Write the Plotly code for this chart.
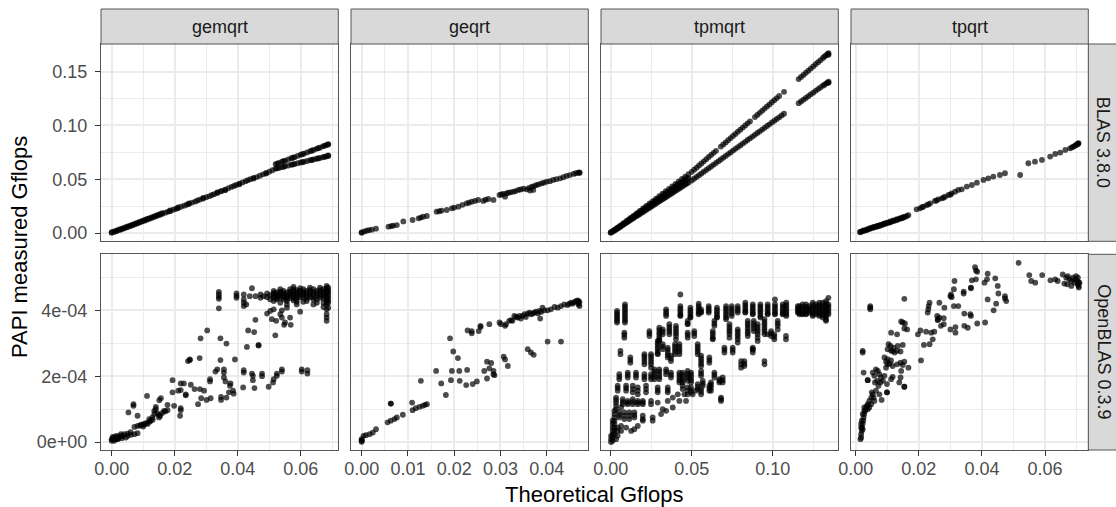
import plotly.graph_objects as go

# ------------------------------------------------------------------
# Data: PAPI measured Gflops vs theoretical Gflops, per routine/library.
# Each entry is (theoretical Gflops, [measured Gflops values at that x]).
# OpenBLAS measurements are stored in units of 1e-4 Gflops.
# ------------------------------------------------------------------
methods = ["gemqrt", "geqrt", "tpmqrt", "tpqrt"]
libraries = ["BLAS 3.8.0", "OpenBLAS 0.3.9"]
OPENBLAS_UNIT = 1e-4

gemqrt_blas = [
    (0.0000, [0.0003, 0.0008]), (0.0008, [0.0010, 0.0016]), (0.0016, [0.0018, 0.0024]),
    (0.0024, [0.0027, 0.0033]), (0.0032, [0.0035, 0.0041]), (0.0040, [0.0044, 0.0050]),
    (0.0048, [0.0053, 0.0058]), (0.0056, [0.0061, 0.0067]), (0.0064, [0.0070, 0.0076]),
    (0.0072, [0.0079, 0.0085]), (0.0080, [0.0088, 0.0094]), (0.0088, [0.0097, 0.0103]),
    (0.0096, [0.0106, 0.0112]), (0.0104, [0.0115, 0.0121]), (0.0112, [0.0124, 0.0130]),
    (0.0120, [0.0133, 0.0139]), (0.0128, [0.0141, 0.0148]), (0.0136, [0.0150, 0.0157]),
    (0.0144, [0.0160, 0.0166]), (0.0152, [0.0168, 0.0175]), (0.0160, [0.0177, 0.0184]),
    (0.0170, [0.0189]), (0.0178, [0.0197]), (0.0185, [0.0203, 0.0209]), (0.0195, [0.0216]),
    (0.0203, [0.0224]), (0.0210, [0.0231, 0.0237]), (0.0220, [0.0244]), (0.0230, [0.0254]),
    (0.0238, [0.0263]), (0.0245, [0.0270, 0.0276]), (0.0255, [0.0283]), (0.0265, [0.0292]),
    (0.0272, [0.0302]), (0.0280, [0.0311]), (0.0290, [0.0320, 0.0326]), (0.0300, [0.0333]),
    (0.0310, [0.0342]), (0.0318, [0.0353]), (0.0325, [0.0361]), (0.0335, [0.0372, 0.0378]),
    (0.0345, [0.0386]), (0.0350, [0.0392]), (0.0360, [0.0404, 0.0398]), (0.0370, [0.0416]),
    (0.0380, [0.0428]), (0.0388, [0.0437]), (0.0395, [0.0446]), (0.0405, [0.0458, 0.0452]),
    (0.0415, [0.0470]), (0.0425, [0.0482]), (0.0432, [0.0491]), (0.0440, [0.0500]),
    (0.0450, [0.0512, 0.0506]), (0.0460, [0.0520]), (0.0470, [0.0532]), (0.0480, [0.0545]),
    (0.0490, [0.0558, 0.0552]), (0.0500, [0.0570]), (0.0510, [0.0583]),
    (0.0520, [0.0598, 0.0640]), (0.0525, [0.0602, 0.0645]), (0.0530, [0.0605, 0.0651]),
    (0.0540, [0.0612, 0.0662]), (0.0545, [0.0616, 0.0667]), (0.0550, [0.0620, 0.0673]),
    (0.0560, [0.0627, 0.0684]), (0.0570, [0.0634, 0.0695]), (0.0575, [0.0637, 0.0700]),
    (0.0580, [0.0641, 0.0705]), (0.0590, [0.0648, 0.0716]), (0.0600, [0.0655, 0.0727]),
    (0.0605, [0.0658, 0.0732]), (0.0610, [0.0662, 0.0738]), (0.0620, [0.0669, 0.0749]),
    (0.0630, [0.0676, 0.0760]), (0.0635, [0.0679, 0.0765]), (0.0640, [0.0683, 0.0771]),
    (0.0650, [0.0690, 0.0782]), (0.0655, [0.0693, 0.0788]), (0.0660, [0.0697, 0.0793]),
    (0.0670, [0.0704, 0.0805]), (0.0675, [0.0708, 0.0810]), (0.0680, [0.0711, 0.0816]),
    (0.0687, [0.0716, 0.0826, 0.0720, 0.0822]),
]

geqrt_blas = [
    (0.0000, [0.0006, 0.0003]), (0.0006, [0.0015]), (0.0011, [0.0022]), (0.0016, [0.0027]),
    (0.0022, [0.0031]), (0.0031, [0.0040]), (0.0058, [0.0059]), (0.0064, [0.0064]),
    (0.0068, [0.0068]), (0.0076, [0.0074]), (0.0090, [0.0108]), (0.0110, [0.0121]),
    (0.0123, [0.0136]), (0.0128, [0.0143]), (0.0133, [0.0152]), (0.0141, [0.0158]),
    (0.0162, [0.0198]), (0.0168, [0.0202]), (0.0173, [0.0208]), (0.0184, [0.0214]),
    (0.0195, [0.0229]), (0.0200, [0.0236]), (0.0209, [0.0245]), (0.0218, [0.0262]),
    (0.0227, [0.0276]), (0.0232, [0.0282]), (0.0238, [0.0291]), (0.0245, [0.0298]),
    (0.0252, [0.0307]), (0.0263, [0.0298]), (0.0268, [0.0310]), (0.0274, [0.0316]),
    (0.0285, [0.0307]), (0.0298, [0.0353]), (0.0302, [0.0358]), (0.0306, [0.0363]),
    (0.0310, [0.0338]), (0.0313, [0.0368]), (0.0317, [0.0375]), (0.0322, [0.0378]),
    (0.0328, [0.0384]), (0.0333, [0.0390]), (0.0339, [0.0400]), (0.0344, [0.0405]),
    (0.0350, [0.0412]), (0.0357, [0.0406]), (0.0362, [0.0420]), (0.0364, [0.0394]),
    (0.0368, [0.0431]), (0.0371, [0.0400]), (0.0373, [0.0436]), (0.0378, [0.0446]),
    (0.0383, [0.0452]), (0.0389, [0.0462]), (0.0394, [0.0468]), (0.0400, [0.0477]),
    (0.0407, [0.0482]), (0.0414, [0.0493]), (0.0421, [0.0500]), (0.0429, [0.0508]),
    (0.0436, [0.0518]), (0.0443, [0.0530]), (0.0450, [0.0538]), (0.0458, [0.0549]),
    (0.0463, [0.0555]), (0.0468, [0.0561]), (0.0471, [0.0564, 0.0558]),
]

tpmqrt_blas = [
    (0.000, [0.0002, 0.0008]), (0.001, [0.0011, 0.0014]), (0.002, [0.0020, 0.0023, 0.0026]),
    (0.003, [0.0031, 0.0035]), (0.004, [0.0039, 0.0043, 0.0047]), (0.005, [0.0050, 0.0056]),
    (0.006, [0.0059, 0.0064, 0.0069]), (0.007, [0.0070, 0.0078]),
    (0.008, [0.0078, 0.0085, 0.0091]), (0.009, [0.0090, 0.0099]),
    (0.010, [0.0098, 0.0106, 0.0114]), (0.011, [0.0110, 0.0121]),
    (0.012, [0.0118, 0.0127, 0.0137]), (0.013, [0.0130, 0.0143]),
    (0.014, [0.0137, 0.0149, 0.0160]), (0.015, [0.0150, 0.0165]),
    (0.016, [0.0157, 0.0170, 0.0182]), (0.017, [0.0168, 0.0186]),
    (0.018, [0.0176, 0.0191, 0.0205]), (0.019, [0.0188, 0.0208]),
    (0.020, [0.0196, 0.0212, 0.0228]), (0.021, [0.0207, 0.0230]),
    (0.022, [0.0216, 0.0233, 0.0251]), (0.023, [0.0227, 0.0252]),
    (0.024, [0.0235, 0.0254, 0.0274]), (0.025, [0.0246, 0.0273]),
    (0.026, [0.0255, 0.0276, 0.0296]), (0.027, [0.0266, 0.0295]),
    (0.028, [0.0274, 0.0297, 0.0319]), (0.029, [0.0285, 0.0316]),
    (0.030, [0.0294, 0.0318, 0.0342]), (0.031, [0.0305, 0.0338]),
    (0.032, [0.0314, 0.0339, 0.0365]), (0.033, [0.0324, 0.0360]),
    (0.034, [0.0333, 0.0360, 0.0388]), (0.035, [0.0344, 0.0381]),
    (0.036, [0.0353, 0.0382, 0.0410]), (0.037, [0.0363, 0.0403]),
    (0.038, [0.0372, 0.0403, 0.0433]), (0.039, [0.0383, 0.0425]),
    (0.040, [0.0392, 0.0424, 0.0456]), (0.041, [0.0402, 0.0447]),
    (0.042, [0.0412, 0.0445, 0.0479]), (0.043, [0.0421, 0.0468]),
    (0.044, [0.0431, 0.0466, 0.0502]), (0.045, [0.0441, 0.0490]),
    (0.046, [0.0451, 0.0488, 0.0524]), (0.047, [0.0461, 0.0512]),
    (0.048, [0.0470, 0.0509, 0.0547]),
    (0.050, [0.0488, 0.0568]), (0.0515, [0.0505, 0.0588]), (0.053, [0.0521, 0.0607]),
    (0.0545, [0.0537, 0.0627]), (0.056, [0.0553, 0.0646]), (0.0575, [0.0570, 0.0666]),
    (0.059, [0.0586, 0.0686]), (0.0605, [0.0602, 0.0706]), (0.062, [0.0618, 0.0725]),
    (0.0635, [0.0635, 0.0745]), (0.065, [0.0651, 0.0764]), (0.0665, [0.0667]),
    (0.068, [0.0683, 0.0803]), (0.0695, [0.0700, 0.0823]), (0.071, [0.0716, 0.0842]),
    (0.0725, [0.0733, 0.0862]), (0.074, [0.0749, 0.0882]), (0.0755, [0.0766, 0.0902]),
    (0.077, [0.0782, 0.0921]), (0.0785, [0.0798, 0.0941]), (0.080, [0.0814, 0.0960]),
    (0.0815, [0.0831, 0.0980]), (0.083, [0.0847, 0.0999]), (0.0845, [0.0864, 0.1019]),
    (0.086, [0.0880, 0.1038]), (0.0875, [0.0896]), (0.089, [0.0912, 0.1077]),
    (0.0905, [0.0929, 0.1097]), (0.092, [0.0945, 0.1117]), (0.0935, [0.0961, 0.1137]),
    (0.095, [0.0977, 0.1156]), (0.0965, [0.0994, 0.1176]), (0.098, [0.1010, 0.1195]),
    (0.0995, [0.1027, 0.1215]), (0.101, [0.1043, 0.1234]), (0.1025, [0.1059, 0.1254]),
    (0.104, [0.1075, 0.1273]), (0.1055, [0.1092]), (0.107, [0.1108, 0.1312]),
    (0.116, [0.1206, 0.1430]), (0.1175, [0.1222, 0.1450]), (0.119, [0.1239, 0.1469]),
    (0.1205, [0.1255, 0.1489]), (0.122, [0.1271, 0.1508]), (0.1235, [0.1288, 0.1528]),
    (0.125, [0.1304, 0.1548]), (0.1265, [0.1321, 0.1568]), (0.128, [0.1337, 0.1587]),
    (0.1295, [0.1352, 0.1605]), (0.131, [0.1369, 0.1626]), (0.132, [0.1378, 0.1640]),
    (0.133, [0.1391, 0.1652]), (0.134, [0.1398, 0.1663]),
    (0.1345, [0.1407, 0.1672, 0.1395, 0.1655]),
]

tpqrt_blas = [
    (0.0014, [0.0006, 0.0012]), (0.0019, [0.0013]), (0.0024, [0.0019, 0.0025]),
    (0.0030, [0.0024]), (0.0035, [0.0028, 0.0034]), (0.0040, [0.0036]),
    (0.0045, [0.0040, 0.0046]), (0.0050, [0.0047]), (0.0056, [0.0050, 0.0057]),
    (0.0061, [0.0056]), (0.0067, [0.0059, 0.0066]), (0.0072, [0.0066]),
    (0.0077, [0.0068, 0.0076]), (0.0083, [0.0075]), (0.0088, [0.0081, 0.0088]),
    (0.0093, [0.0086]), (0.0098, [0.0090, 0.0097]), (0.0104, [0.0096]),
    (0.0109, [0.0099, 0.0107]), (0.0114, [0.0106]), (0.0119, [0.0112, 0.0118]),
    (0.0125, [0.0116]), (0.0130, [0.0121, 0.0128]), (0.0135, [0.0127]),
    (0.0141, [0.0133, 0.0139]), (0.0146, [0.0138]), (0.0151, [0.0143, 0.0150]),
    (0.0157, [0.0150]), (0.0162, [0.0158]), (0.0167, [0.0167]),
    (0.0193, [0.0220]), (0.0204, [0.0229]), (0.0210, [0.0240]), (0.0214, [0.0245]),
    (0.0225, [0.0260]), (0.0230, [0.0266]), (0.0236, [0.0276]), (0.0251, [0.0298]),
    (0.0256, [0.0302]), (0.0262, [0.0313]), (0.0273, [0.0322]), (0.0278, [0.0328]),
    (0.0283, [0.0338]), (0.0294, [0.0353]), (0.0300, [0.0356]), (0.0304, [0.0369]),
    (0.0315, [0.0384]), (0.0325, [0.0400]), (0.0336, [0.0406]), (0.0352, [0.0431]),
    (0.0368, [0.0446]), (0.0384, [0.0468]), (0.0405, [0.0493]), (0.0420, [0.0508]),
    (0.0436, [0.0524]), (0.0457, [0.0539]), (0.0473, [0.0555]), (0.0521, [0.0539]),
    (0.0547, [0.0648]), (0.0568, [0.0663]), (0.0590, [0.0679]), (0.0616, [0.0710]),
    (0.0632, [0.0735]), (0.0648, [0.0747]), (0.0664, [0.0772]), (0.0679, [0.0787]),
    (0.0685, [0.0795]), (0.0690, [0.0803]), (0.0694, [0.0810]), (0.0698, [0.0818]),
    (0.0701, [0.0822]), (0.0703, [0.0828]), (0.0705, [0.0831]), (0.0706, [0.0834]),
]

gemqrt_openblas = [
    (0.0340, [4.56, 4.48, 4.41, 4.35, 4.06]), (0.0396, [4.51, 4.44, 4.38]),
    (0.0419, [4.48, 4.33, 4.23, 4.13]), (0.0427, [4.18]), (0.0438, [4.43]),
    (0.0445, [4.67]), (0.0456, [4.43, 3.71]), (0.0472, [4.48, 4.38]), (0.0482, [4.43]),
    (0.0493, [4.51, 4.40, 3.90]), (0.0503, [4.46, 4.33, 3.98]), (0.0508, [3.73]),
    (0.0514, [4.59, 4.53, 4.48, 4.43, 4.38, 4.28, 4.03]), (0.0522, [3.68]),
    (0.0524, [4.54, 4.48, 4.43, 4.38, 4.33]),
    (0.0535, [4.64, 4.57, 4.51, 4.45, 4.38, 4.23, 3.88]), (0.0540, [4.00, 3.78]),
    (0.0545, [4.59, 4.52, 4.46, 4.40, 4.33]), (0.0547, [3.56]), (0.0550, [3.63]),
    (0.0556, [4.54, 4.47, 4.40, 4.34, 4.28, 4.18, 4.08]),
    (0.0566, [4.64, 4.57, 4.51, 4.45, 4.38, 3.78]),
    (0.0568, [3.56]), (0.0577, [4.71, 4.64, 4.57, 4.50, 4.43, 4.36, 4.30]),
    (0.0587, [4.61, 4.54, 4.48, 4.41, 4.33, 4.26, 4.18]),
    (0.0598, [4.67, 4.60, 4.54, 4.47, 4.40, 3.96]),
    (0.0608, [4.64, 4.57, 4.51, 4.45, 4.38, 4.26]),
    (0.0619, [4.59, 4.51, 4.43, 4.36, 4.28]), (0.0629, [4.69, 4.61, 4.54, 4.47, 4.40]),
    (0.0640, [4.64, 4.56, 4.48, 4.40, 4.33, 4.18]), (0.0651, [4.59, 4.51, 4.43, 4.33, 4.23]),
    (0.0661, [4.69, 4.61, 4.54, 4.46, 4.38]),
    (0.0672, [4.64, 4.57, 4.51, 4.43, 4.36, 4.23, 4.10]),
    (0.0682, [4.74, 4.67, 4.61, 4.54, 4.48, 4.40, 4.33, 4.25, 4.18, 4.03, 3.88, 3.78, 3.68]),
    (0.0687, [4.69, 4.61, 4.54, 4.46, 4.38, 4.30, 4.23, 4.08]),
    (0.0433, [3.39]), (0.0452, [3.34]), (0.0519, [3.24]), (0.0429, [2.89]),
    (0.0466, [2.95, 2.93]), (0.0364, [2.99]), (0.0345, [3.15, 2.49]), (0.0303, [3.39]),
    (0.0282, [3.15]), (0.0248, [2.51, 2.49]), (0.0242, [2.46]), (0.0279, [2.55]),
    (0.0391, [2.51]), (0.0335, [2.21]), (0.0329, [2.14]), (0.0356, [2.21, 2.11, 1.96]),
    (0.0312, [1.91, 1.84]), (0.0361, [1.84]), (0.0377, [1.78]), (0.0375, [1.71]),
    (0.0385, [1.56]), (0.0387, [1.47]), (0.0372, [1.51]), (0.0364, [1.35]),
    (0.0347, [1.37, 1.28]), (0.0314, [1.33]), (0.0301, [1.28]), (0.0284, [1.33]),
    (0.0274, [1.15]), (0.0293, [1.56]), (0.0280, [1.61]), (0.0263, [1.61]),
    (0.0251, [1.74]), (0.0229, [1.78]), (0.0219, [1.78, 1.58, 1.03, 0.97]),
    (0.0235, [1.45, 1.42]), (0.0211, [1.56]), (0.0193, [1.88, 1.51]), (0.0217, [0.80]),
    (0.0198, [1.10]), (0.0177, [1.13, 0.97]), (0.0166, [0.95]), (0.0156, [1.33]),
    (0.0151, [1.27]), (0.0140, [1.07, 1.00]), (0.0135, [0.95, 0.85]), (0.0129, [0.75]),
    (0.0145, [0.87]), (0.0154, [0.80]), (0.0124, [0.65]), (0.0119, [0.70]),
    (0.0114, [0.55]), (0.0112, [1.40]), (0.0069, [1.15, 1.10]), (0.0053, [0.90]),
    (0.0082, [0.80, 0.49, 0.27]), (0.0072, [0.46, 0.24]), (0.0093, [0.53]),
    (0.0103, [0.55]), (0.0040, [0.24]), (0.0051, [0.19]), (0.0061, [0.22]),
    (0.0000, [0.04, 0.09]), (0.0003, [0.09, 0.16]), (0.0008, [0.14, 0.04]),
    (0.0014, [0.19, 0.09]), (0.0019, [0.09]), (0.0024, [0.16]), (0.0029, [0.24]),
    (0.0032, [0.12]), (0.0035, [0.19]), (0.0045, [0.14]),
    (0.0090, [0.50]), (0.0100, [0.53, 0.47]), (0.0110, [0.58]), (0.0120, [0.62]),
    (0.0130, [0.68]), (0.0150, [0.82, 0.75]), (0.0160, [0.88]), (0.0170, [0.93]),
    (0.0010, [0.10]), (0.0020, [0.17, 0.11]), (0.0030, [0.18]), (0.0060, [0.30]),
    (0.0050, [0.26]),
    (0.0419, [2.11, 2.18]), (0.0417, [1.66]), (0.0445, [2.08]), (0.0448, [2.01, 1.88]),
    (0.0453, [1.64]), (0.0477, [2.08, 2.00]), (0.0498, [1.68]), (0.0512, [1.81]),
    (0.0514, [1.91]), (0.0524, [2.01, 2.08]), (0.0540, [2.14, 2.21]),
    (0.0603, [2.21, 2.14]), (0.0621, [2.18, 2.08]),
]

geqrt_openblas = [
    (0.0000, [0.04, 0.09, 0.01, 0.06]), (0.0004, [0.19]), (0.0009, [0.21]), (0.0017, [0.24]),
    (0.0024, [0.29]), (0.0031, [0.39]), (0.0056, [0.60]), (0.0063, [0.65, 1.17, 1.17]),
    (0.0071, [0.70]), (0.0076, [0.75]), (0.0089, [0.83]), (0.0109, [1.20]), (0.0110, [0.97]),
    (0.0117, [1.03]), (0.0125, [1.07]), (0.0128, [1.86]), (0.0132, [1.10]), (0.0137, [1.13]),
    (0.0141, [1.15]), (0.0161, [2.16]), (0.0172, [1.78]), (0.0182, [1.43]), (0.0191, [3.15]),
    (0.0193, [1.88]), (0.0195, [2.16]), (0.0198, [2.75]), (0.0208, [2.55]), (0.0211, [2.16]),
    (0.0212, [1.86]), (0.0226, [1.73]), (0.0228, [2.19]), (0.0229, [3.39]),
    (0.0238, [3.37, 3.30]), (0.0240, [1.76]), (0.0249, [1.84]), (0.0253, [3.37]),
    (0.0257, [3.53, 3.49]), (0.0265, [2.16]), (0.0271, [1.93, 2.44]), (0.0276, [3.58, 2.24]),
    (0.0280, [2.40]), (0.0285, [2.16, 2.06]), (0.0287, [2.03]), (0.0298, [3.63]),
    (0.0301, [3.58]), (0.0307, [2.59]), (0.0310, [2.51, 3.53]), (0.0312, [3.58]),
    (0.0316, [2.31]), (0.0319, [3.68]), (0.0323, [3.70]), (0.0326, [3.68]), (0.0330, [3.83]),
    (0.0334, [3.80]), (0.0337, [3.78]), (0.0341, [3.83]), (0.0344, [3.75]), (0.0348, [3.83]),
    (0.0352, [3.88]), (0.0355, [3.80]), (0.0359, [3.90, 2.82]), (0.0363, [3.93]),
    (0.0366, [3.88, 2.72]), (0.0370, [3.90]), (0.0372, [2.65]), (0.0373, [3.93]),
    (0.0377, [3.96]), (0.0381, [3.90]), (0.0384, [3.98]), (0.0386, [3.75]), (0.0388, [3.95]),
    (0.0391, [4.08]), (0.0395, [4.00]), (0.0402, [4.00, 3.05]), (0.0409, [4.03]),
    (0.0417, [4.10]), (0.0424, [4.08]), (0.0431, [4.13, 3.05]), (0.0438, [4.18]),
    (0.0445, [4.16]), (0.0449, [4.20]), (0.0453, [4.23]), (0.0456, [4.20]), (0.0460, [4.25]),
    (0.0463, [4.28]), (0.0467, [4.30]), (0.0468, [4.23]), (0.0469, [4.18, 4.28]),
    (0.0471, [4.13, 4.25]),
]

tpmqrt_openblas = [
    # upper plateau
    (0.0039, [3.98, 3.92, 3.86, 3.80, 3.74, 3.68, 3.63]),
    (0.0088, [4.18, 4.11, 4.04, 3.97, 3.90, 3.83, 3.76, 3.69, 3.63]),
    (0.0430, [4.48, 4.13, 4.06, 3.99, 3.92, 3.85, 3.83]), (0.0342, [4.03, 3.96, 3.89, 3.83]),
    (0.0492, [4.08, 4.01, 3.94, 3.87, 3.80, 3.78]), (0.0543, [4.20, 4.13, 4.06, 3.99, 3.92, 3.88]),
    (0.0558, [4.03, 3.96, 3.93]), (0.0605, [4.13, 4.06, 3.99, 3.93]),
    (0.0656, [4.08, 4.01, 3.94, 3.87, 3.80, 3.78]),
    (0.0712, [4.13, 4.06, 3.99, 3.92, 3.85, 3.78, 3.73]),
    (0.0747, [4.13, 4.05, 3.98, 3.90, 3.83]), (0.0784, [4.13, 4.06, 3.99, 3.93]),
    (0.0831, [4.23, 4.16, 4.09, 4.02, 3.95, 3.93]),
    (0.0877, [4.18, 4.11, 4.04, 3.97, 3.90, 3.88]),
    (0.0924, [4.18, 4.11, 4.04, 3.97, 3.90, 3.83, 3.78]),
    (0.0969, [4.18, 4.11, 4.04, 3.97, 3.90, 3.88]),
    (0.1014, [4.33, 4.18, 4.11, 4.04, 3.97, 3.90, 3.88]),
    (0.1062, [4.18, 4.11, 4.04, 3.97, 3.90, 3.88]),
    (0.1084, [4.23, 4.16, 4.09, 4.02, 3.95, 3.88, 3.83]),
    (0.1155, [4.13, 4.06, 3.99, 3.93]), (0.1165, [4.13, 4.06, 3.99, 3.92, 3.88]),
    (0.1185, [4.18, 4.11, 4.04, 3.97, 3.90, 3.88]), (0.1206, [4.18, 4.11, 4.04, 3.97, 3.90, 3.88]),
    (0.1226, [4.13, 4.06, 3.99, 3.93]), (0.1247, [4.23, 4.16, 4.09, 4.02, 3.95, 3.88, 3.83]),
    (0.1267, [4.18, 4.11, 4.03, 3.95, 3.88]), (0.1288, [4.23, 4.16, 4.09, 4.02, 3.95, 3.88, 3.83]),
    (0.1309, [4.23, 4.15, 4.08, 4.00, 3.93, 3.85, 3.78]),
    (0.1329, [4.28, 4.21, 4.14, 4.07, 4.00, 3.93, 3.86, 3.79, 3.72, 3.68]),
    (0.1344, [4.38, 4.18, 4.11, 4.03, 3.95, 3.88]),
    # second band
    (0.0084, [3.32, 3.25, 3.17]), (0.0239, [3.37, 3.30, 3.22]),
    (0.0300, [3.47, 3.40, 3.32, 3.25, 3.17, 3.10, 3.07]),
    (0.0321, [3.42, 3.35, 3.27]), (0.0362, [3.58, 3.50, 3.42, 3.35, 3.27]),
    (0.0403, [3.53, 3.45, 3.37, 3.30, 3.22, 3.12]),
    (0.0475, [3.68, 3.60, 3.58, 3.32, 3.25, 3.17]), (0.0516, [3.37, 3.30, 3.22]),
    (0.0630, [3.37, 3.30, 3.22, 3.15, 3.12]), (0.0640, [3.68, 3.60, 3.53]),
    (0.0733, [3.58, 3.50, 3.42, 3.35, 3.27, 3.17]),
    (0.0784, [3.42, 3.35, 3.27, 3.20, 3.12, 3.02]),
    (0.0846, [3.68, 3.60, 3.53, 3.45, 3.37, 3.30, 3.22]),
    (0.0883, [3.68, 3.60, 3.53, 3.45, 3.37]),
    (0.0907, [3.58, 3.50, 3.42, 3.35, 3.27, 3.17, 3.07]),
    (0.0949, [3.73, 3.65, 3.58, 3.50, 3.42, 3.35, 3.27]), (0.0990, [3.37, 3.30, 3.22]),
    (0.1031, [3.68, 3.60, 3.53, 3.42]), (0.1010, [3.27, 3.20, 3.12]), (0.1082, [3.22, 3.12]),
    (0.0969, [3.27]), (0.0877, [2.82]),
    # third band
    (0.0060, [2.77, 2.67]), (0.0121, [2.57, 2.49, 2.41]), (0.0208, [2.67, 2.60, 2.52, 2.44, 2.36]),
    (0.0249, [2.67, 2.60, 2.52, 2.44, 2.36, 2.26]),
    (0.0290, [3.07, 3.00, 2.92, 2.85, 2.77, 2.70, 2.67]),
    (0.0321, [2.97, 2.90, 2.82]), (0.0352, [2.87, 2.80, 2.72, 2.64, 2.57]),
    (0.0372, [2.62, 2.54, 2.46]), (0.0397, [2.97, 2.90, 2.82, 2.75, 2.67]),
    (0.0424, [2.97, 2.90, 2.82, 2.75, 2.67]), (0.0537, [2.97, 2.90, 2.82, 2.75, 2.67]),
    (0.0702, [2.87, 2.80, 2.72]), (0.0753, [2.87, 2.80, 2.72]), (0.0805, [2.46, 2.36, 2.26]),
    (0.0825, [2.46, 2.38, 2.31]), (0.0877, [2.87, 2.80, 2.72]), (0.0949, [2.46, 2.36]),
    (0.0558, [2.62, 2.54, 2.46, 2.38, 2.31]), (0.0609, [2.57, 2.49, 2.41]),
    # fourth band
    (0.0053, [2.06, 1.98, 1.91]), (0.0105, [2.11, 2.04, 1.96]), (0.0156, [2.11, 2.04, 1.96]),
    (0.0208, [2.06, 1.98, 1.91]), (0.0249, [2.06, 1.98, 1.91]),
    (0.0270, [2.21, 2.14, 2.06, 1.98, 1.91]), (0.0300, [2.21, 2.14, 2.06, 1.98, 1.91]),
    (0.0342, [2.21, 2.14, 2.06]), (0.0372, [2.11, 2.04, 1.96]),
    (0.0424, [2.11, 2.04, 1.96, 1.88, 1.81]), (0.0444, [2.11, 2.04, 1.96, 1.88, 1.81]),
    (0.0475, [2.16, 2.08, 2.01, 1.94, 1.86]), (0.0496, [2.11, 2.04, 1.96, 1.88, 1.81]),
    (0.0558, [2.16, 2.08, 2.01]), (0.0640, [2.11, 2.04, 1.96]), (0.0671, [1.91, 1.86, 1.81]),
    (0.0691, [1.96, 1.88, 1.81]), (0.0619, [1.81, 1.74, 1.66, 1.56]),
    (0.0537, [1.76, 1.68, 1.61]), (0.0568, [1.86, 1.78, 1.71]),
    # fifth band
    (0.0043, [1.71, 1.64, 1.56]), (0.0095, [1.71, 1.64, 1.56]), (0.0136, [1.71, 1.61, 1.51]),
    (0.0167, [1.66, 1.56, 1.45]), (0.0218, [1.71, 1.61, 1.51]), (0.0290, [1.66, 1.58, 1.51]),
    (0.0352, [1.66, 1.58, 1.51]), (0.0444, [1.71, 1.61]), (0.0475, [1.66, 1.56, 1.45]),
    (0.0496, [1.66, 1.58, 1.51]), (0.0558, [1.61, 1.53, 1.45]), (0.0609, [1.71, 1.64, 1.56]),
    (0.0681, [1.35, 1.30, 1.25]), (0.0527, [1.56]),
    # sixth band
    (0.0033, [1.35, 1.28, 1.20, 1.10, 1.00]), (0.0074, [1.30, 1.22, 1.15]),
    (0.0105, [1.25, 1.20, 1.15]), (0.0136, [1.30, 1.22, 1.15]), (0.0167, [1.25, 1.20, 1.15]),
    (0.0198, [1.25, 1.20, 1.15]), (0.0249, [1.25, 1.15]), (0.0290, [1.20]), (0.0352, [1.25]),
    (0.0424, [1.25]), (0.0465, [1.25]), (0.0383, [1.35, 1.05]), (0.0414, [1.45]),
    (0.0455, [1.45]), (0.0506, [1.45]), (0.0064, [1.05]),
    # seventh band
    (0.0023, [0.95, 0.85, 0.75, 0.65, 0.55, 0.44, 0.34, 0.24]), (0.0053, [0.90, 0.82, 0.75]),
    (0.0084, [0.90, 0.80, 0.70]), (0.0115, [0.90, 0.80, 0.70]), (0.0146, [0.90, 0.82, 0.75, 0.39]),
    (0.0198, [0.80, 0.70, 0.65]), (0.0259, [0.75, 0.65]), (0.0311, [0.85]),
    (0.0342, [0.95]), (0.0321, [1.00]),
    # lowest cluster
    (0.0012, [0.65, 0.55, 0.44, 0.34, 0.24, 0.14, 0.04]), (0.0043, [0.44, 0.34, 0.19]),
    (0.0064, [0.49, 0.34]), (0.0095, [0.44]), (0.0126, [0.34]), (0.0167, [0.49]),
    (0.0002, [0.19, 0.09, 0.00]), (0.0033, [0.09]),
]

tpqrt_openblas = [
    (0.0516, [5.44]), (0.0550, [5.07]), (0.0556, [4.89]), (0.0569, [4.84]), (0.0591, [5.07]),
    (0.0617, [4.91]), (0.0632, [4.94]), (0.0640, [4.89]), (0.0656, [5.09]), (0.0661, [4.81]),
    (0.0667, [4.99]), (0.0670, [4.79]), (0.0672, [5.04]), (0.0677, [4.94]),
    (0.0683, [4.89, 4.74]), (0.0688, [4.99]), (0.0693, [4.84]), (0.0695, [4.94]),
    (0.0698, [5.04]), (0.0702, [4.89]), (0.0704, [4.79, 4.99]), (0.0706, [4.74]),
    (0.0707, [4.69, 4.84]), (0.0709, [4.84]),
    (0.0378, [5.31]), (0.0381, [5.21, 4.94]), (0.0385, [5.17, 3.60]), (0.0418, [5.11, 4.33]),
    (0.0442, [4.97]), (0.0416, [4.94]), (0.0408, [4.84]), (0.0368, [4.91]),
    (0.0365, [4.69, 4.67, 3.83]), (0.0342, [4.57, 4.51]), (0.0313, [4.89]),
    (0.0311, [4.64, 4.13]), (0.0302, [4.48]), (0.0300, [4.43, 3.42]), (0.0304, [4.40]),
    (0.0450, [4.74]), (0.0452, [4.51]), (0.0473, [4.43, 4.36]), (0.0477, [4.28]),
    (0.0445, [4.20]), (0.0437, [4.00]), (0.0410, [3.63]), (0.0363, [3.88]),
    (0.0344, [3.90, 3.53]), (0.0325, [4.13]), (0.0281, [4.08]), (0.0265, [4.23, 3.78]),
    (0.0234, [4.23, 2.97]), (0.0231, [4.13]), (0.0230, [4.03]), (0.0228, [3.93]),
    (0.0258, [3.83]), (0.0260, [3.73, 3.70]), (0.0279, [3.76, 3.58]), (0.0270, [3.53]),
    (0.0316, [3.49, 3.32]), (0.0355, [3.47]), (0.0249, [3.35]), (0.0239, [3.32]),
    (0.0223, [3.35]), (0.0205, [3.39]), (0.0197, [3.27]), (0.0244, [3.12]), (0.0216, [2.95]),
    (0.0207, [2.48]), (0.0163, [3.42]), (0.0154, [3.45, 4.35, 1.68, 1.68]), (0.0149, [3.63]),
    (0.0144, [3.66]), (0.0156, [3.60]), (0.0046, [4.13, 4.08, 4.03]), (0.0112, [3.32]),
    (0.0131, [3.27]),
    (0.0149, [2.95, 2.34]), (0.0133, [2.92]), (0.0120, [2.87]), (0.0110, [2.92]),
    (0.0104, [2.97]), (0.0117, [2.77, 2.31, 1.98]), (0.0123, [2.72]), (0.0131, [2.77, 2.36]),
    (0.0142, [2.75, 2.41, 1.96]), (0.0112, [2.77, 2.48, 1.91]), (0.0101, [2.82, 2.52, 2.36]),
    (0.0091, [2.57, 2.01]), (0.0096, [2.44, 2.26]), (0.0107, [2.38]), (0.0154, [2.44]),
    (0.0167, [2.26]), (0.0022, [2.77, 2.72]), (0.0025, [2.11]), (0.0038, [1.88, 1.88]),
    (0.0054, [2.11]), (0.0064, [2.21]), (0.0070, [2.16]), (0.0059, [2.01]), (0.0075, [2.06]),
    (0.0080, [1.96]), (0.0068, [1.86]), (0.0061, [1.81]), (0.0078, [1.81]), (0.0086, [1.86]),
    (0.0072, [1.71]), (0.0099, [1.76, 1.51, 1.51]), (0.0144, [2.16]), (0.0138, [1.81]),
    (0.0017, [0.14, 0.24, 0.44, 0.55]), (0.0019, [0.34, 0.65]), (0.0020, [0.44]),
    (0.0022, [0.55, 0.85, 0.39]), (0.0024, [0.65]), (0.0025, [0.75]), (0.0027, [0.85, 1.05, 0.95]),
    (0.0030, [0.95]), (0.0033, [1.05]), (0.0036, [1.10]), (0.0038, [1.15, 1.00]),
    (0.0043, [1.25, 1.05]), (0.0049, [1.35, 1.15]), (0.0054, [1.45]), (0.0064, [1.56]),
    (0.0075, [1.45]), (0.0082, [1.28]), (0.0059, [1.25]), (0.0051, [1.51]), (0.0057, [1.35]),
    (0.0015, [0.09]),
]

panel_data = {
    ("gemqrt", "BLAS 3.8.0"): gemqrt_blas,
    ("geqrt", "BLAS 3.8.0"): geqrt_blas,
    ("tpmqrt", "BLAS 3.8.0"): tpmqrt_blas,
    ("tpqrt", "BLAS 3.8.0"): tpqrt_blas,
    ("gemqrt", "OpenBLAS 0.3.9"): gemqrt_openblas,
    ("geqrt", "OpenBLAS 0.3.9"): geqrt_openblas,
    ("tpmqrt", "OpenBLAS 0.3.9"): tpmqrt_openblas,
    ("tpqrt", "OpenBLAS 0.3.9"): tpqrt_openblas,
}
row_scale = {"BLAS 3.8.0": 1.0, "OpenBLAS 0.3.9": OPENBLAS_UNIT}

# Axis scales: free x per routine column, free y per library row
x_ranges = {"gemqrt": [-0.0034, 0.0719], "geqrt": [-0.00231, 0.0490],
            "tpmqrt": [-0.0060, 0.1405], "tpqrt": [-0.0015, 0.0737]}
x_major = {"gemqrt": [0.0, 0.02, 0.04, 0.06], "geqrt": [0.0, 0.01, 0.02, 0.03, 0.04],
           "tpmqrt": [0.0, 0.05, 0.10], "tpqrt": [0.0, 0.02, 0.04, 0.06]}
x_labels = {"gemqrt": ["0.00", "0.02", "0.04", "0.06"],
            "geqrt": ["0.00", "0.01", "0.02", "0.03", "0.04"],
            "tpmqrt": ["0.00", "0.05", "0.10"], "tpqrt": ["0.00", "0.02", "0.04", "0.06"]}
x_minor = {"gemqrt": [0.01, 0.03, 0.05, 0.07], "geqrt": [0.005, 0.015, 0.025, 0.035, 0.045],
           "tpmqrt": [0.025, 0.075, 0.125], "tpqrt": [0.01, 0.03, 0.05, 0.07]}
y_ranges = {"BLAS 3.8.0": [-0.0077, 0.1756], "OpenBLAS 0.3.9": [-0.24e-4, 5.70e-4]}
y_major = {"BLAS 3.8.0": [0.0, 0.05, 0.10, 0.15], "OpenBLAS 0.3.9": [0.0, 2e-4, 4e-4]}
y_labels = {"BLAS 3.8.0": ["0.00", "0.05", "0.10", "0.15"],
            "OpenBLAS 0.3.9": ["0e+00", "2e-04", "4e-04"]}
y_minor = {"BLAS 3.8.0": [0.025, 0.075, 0.125, 0.175], "OpenBLAS 0.3.9": [1e-4, 3e-4, 5e-4]}

# ------------------------------------------------------------------
# Page geometry (pixels)
# ------------------------------------------------------------------
W, H = 1116, 507
PANEL_LEFT = [101, 351, 601, 851]
PANEL_W = 237.3
ROW_TOP = [44, 254.3]
ROW_H = [197.3, 195.7]
STRIP_TOP = 9
RIGHT_STRIP_W = 29

FONT = "Liberation Sans, Arial, Helvetica, sans-serif"
GRID = "#EBEBEB"
BORDER = "#555555"
STRIP_FILL = "#D9D9D9"


def px_x(v):
    return v / W


def px_y(v):
    return 1 - v / H


fig = go.Figure()
layout = dict(
    width=W, height=H, margin=dict(l=0, r=0, t=0, b=0, autoexpand=False),
    paper_bgcolor="white", plot_bgcolor="white", showlegend=False,
    font=dict(family=FONT, color="#4D4D4D"),
)
shapes, annotations = [], []

for r, lib in enumerate(libraries):
    for c, meth in enumerate(methods):
        idx = r * 4 + c + 1
        sfx = "" if idx == 1 else str(idx)
        xs, ys = [], []
        for xv, yvals in panel_data[(meth, lib)]:
            for yv in yvals:
                xs.append(xv)
                ys.append(yv * row_scale[lib])
        fig.add_trace(go.Scatter(
            x=xs, y=ys, mode="markers", xaxis="x" + sfx, yaxis="y" + sfx,
            marker=dict(size=5.8, color="rgba(0,0,0,0.7)", line=dict(width=0)),
            hoverinfo="skip", cliponaxis=False,
        ))

        x0 = PANEL_LEFT[c]
        x1 = x0 + PANEL_W
        y0 = ROW_TOP[r]
        y1 = y0 + ROW_H[r]
        bottom = r == len(libraries) - 1
        left = c == 0
        layout["xaxis" + sfx] = dict(
            domain=[px_x(x0), px_x(x1)], anchor="y" + sfx, range=x_ranges[meth],
            automargin=False,
            tickmode="array", tickvals=x_major[meth], ticktext=x_labels[meth],
            showticklabels=bottom, ticks="outside" if bottom else "",
            ticklen=5, tickwidth=1, tickcolor="#333333", ticklabelstandoff=-3,
            tickfont=dict(size=18, color="#4D4D4D", family=FONT),
            showgrid=True, gridcolor=GRID, gridwidth=1.6, zeroline=False,
            showline=True, mirror=True, linecolor=BORDER, linewidth=1,
            minor=dict(tickmode="array", tickvals=x_minor[meth], showgrid=True,
                       gridcolor=GRID, gridwidth=0.8, ticks=""),
            fixedrange=True,
        )
        layout["yaxis" + sfx] = dict(
            domain=[px_y(y1), px_y(y0)], anchor="x" + sfx, range=y_ranges[lib],
            automargin=False,
            tickmode="array", tickvals=y_major[lib], ticktext=y_labels[lib],
            showticklabels=left, ticks="outside" if left else "",
            ticklen=5, tickwidth=1, tickcolor="#333333", ticklabelstandoff=4,
            tickfont=dict(size=18, color="#4D4D4D", family=FONT),
            showgrid=True, gridcolor=GRID, gridwidth=1.6, zeroline=False,
            showline=True, mirror=True, linecolor=BORDER, linewidth=1,
            minor=dict(tickmode="array", tickvals=y_minor[lib], showgrid=True,
                       gridcolor=GRID, gridwidth=0.8, ticks=""),
            fixedrange=True,
        )

# Column strips (routine names)
for c, meth in enumerate(methods):
    x0 = PANEL_LEFT[c]
    x1 = x0 + PANEL_W
    shapes.append(dict(type="rect", xref="paper", yref="paper",
                       x0=px_x(x0), x1=px_x(x1), y0=px_y(ROW_TOP[0]), y1=px_y(STRIP_TOP),
                       fillcolor=STRIP_FILL, line=dict(color=BORDER, width=1), layer="above"))
    annotations.append(dict(text=meth, xref="paper", yref="paper",
                            x=px_x((x0 + x1) / 2), y=px_y((STRIP_TOP + ROW_TOP[0]) / 2),
                            showarrow=False, xanchor="center", yanchor="middle",
                            font=dict(size=18, color="#1A1A1A", family=FONT)))

# Row strips (library names)
strip_x0 = PANEL_LEFT[-1] + PANEL_W
for r, lib in enumerate(libraries):
    y0 = ROW_TOP[r]
    y1 = y0 + ROW_H[r]
    shapes.append(dict(type="rect", xref="paper", yref="paper",
                       x0=px_x(strip_x0), x1=px_x(strip_x0 + RIGHT_STRIP_W + 4),
                       y0=px_y(y1), y1=px_y(y0),
                       fillcolor=STRIP_FILL, line=dict(color=BORDER, width=1), layer="above"))
    annotations.append(dict(text=lib, xref="paper", yref="paper",
                            x=px_x(strip_x0 + RIGHT_STRIP_W / 2 + 1), y=px_y((y0 + y1) / 2),
                            showarrow=False, textangle=90, xanchor="center", yanchor="middle",
                            font=dict(size=18, color="#1A1A1A", family=FONT)))

# Axis titles
annotations.append(dict(text="Theoretical Gflops", xref="paper", yref="paper",
                        x=px_x((PANEL_LEFT[0] + PANEL_LEFT[-1] + PANEL_W) / 2), y=px_y(494),
                        showarrow=False, xanchor="center", yanchor="middle",
                        font=dict(size=22, color="black", family=FONT)))
annotations.append(dict(text="PAPI measured Gflops", xref="paper", yref="paper",
                        x=px_x(19), y=px_y((ROW_TOP[0] + ROW_TOP[1] + ROW_H[1]) / 2),
                        showarrow=False, textangle=-90, xanchor="center", yanchor="middle",
                        font=dict(size=22, color="black", family=FONT)))

layout["shapes"] = shapes
layout["annotations"] = annotations
fig.update_layout(**layout)
fig.write_html("out.html")
